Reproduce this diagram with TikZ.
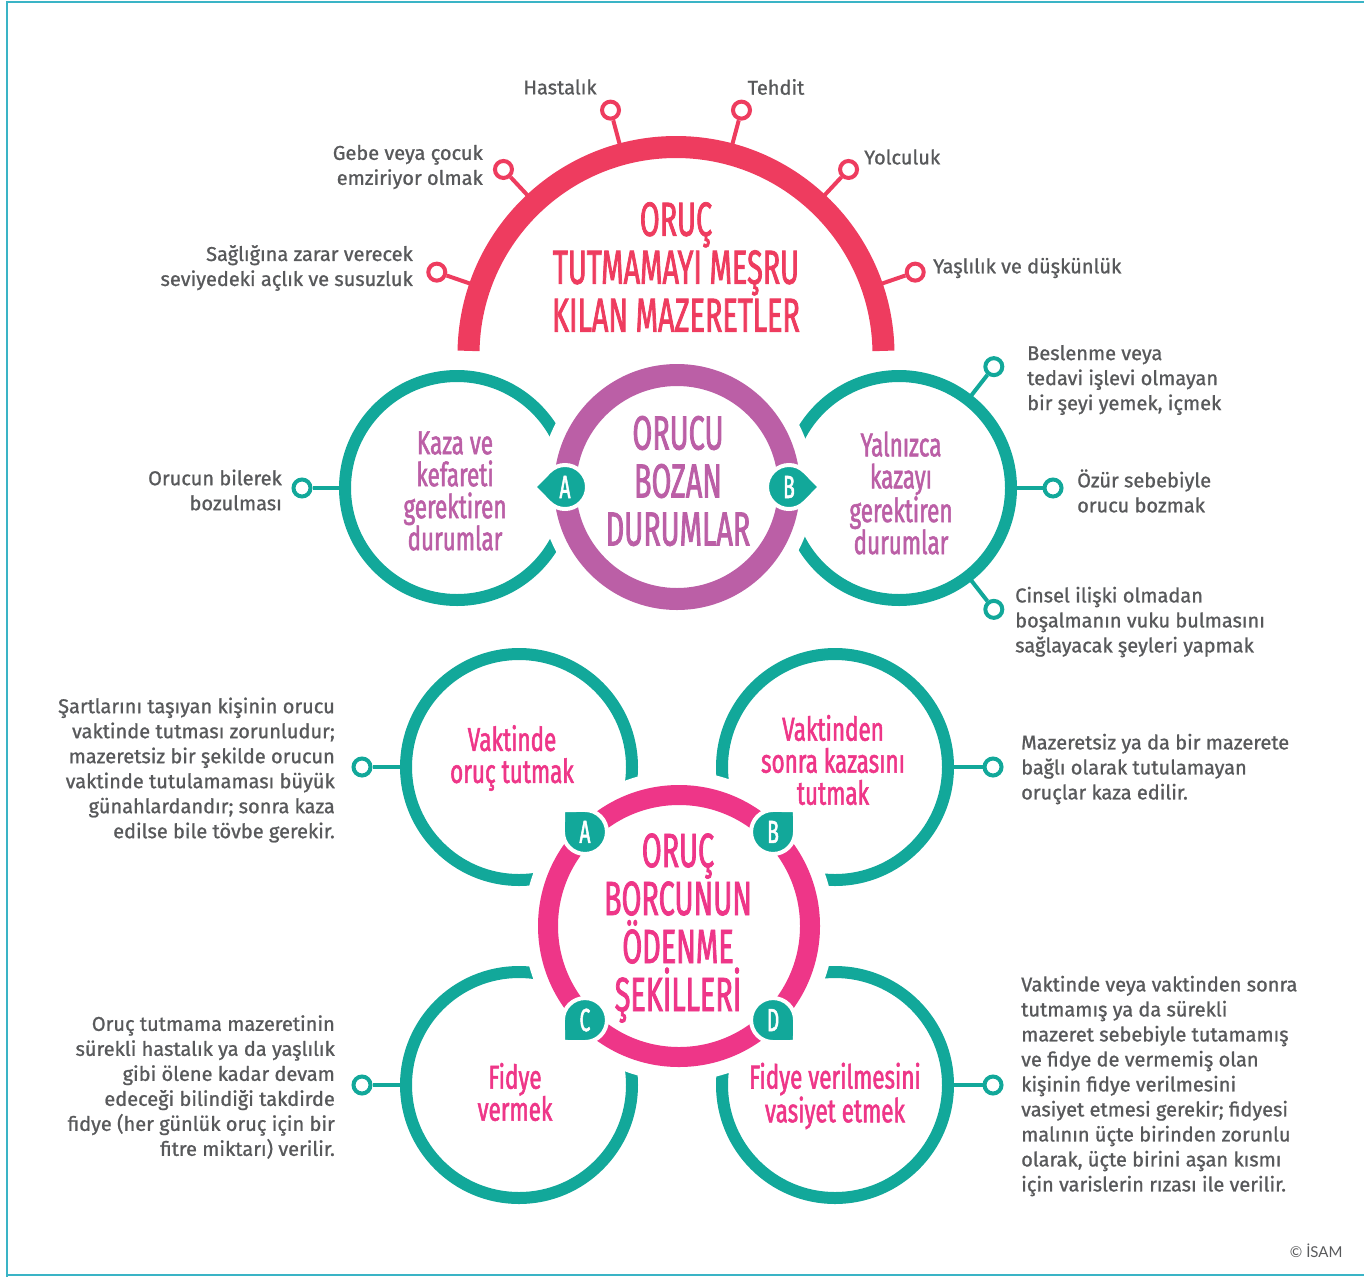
\documentclass[tikz,border=0pt]{standalone}
\usepackage{fontspec}
\setmainfont{Fira Sans}
\newfontfamily\lblfont{Fira Sans}[FakeBold=1]
\newfontfamily\titlefont{Fira Sans}[FakeStretch=0.6, FakeBold=1.6]
\newfontfamily\subfont{Fira Sans}[FakeStretch=0.68, FakeBold=1.6]
\newfontfamily\copyfont{Lato}
\usetikzlibrary{positioning}

\definecolor{redarc}{HTML}{EE3C5F}
\definecolor{purp}{HTML}{BB5FA6}
\definecolor{tealc}{HTML}{12A89A}
\definecolor{pinkc}{HTML}{EE3688}
\definecolor{txtgray}{HTML}{58595B}
\definecolor{framec}{HTML}{3AB4C6}

\tikzset{
  lbl/.style={font=\lblfont\fontsize{20}{25}\selectfont, text=txtgray, inner sep=0pt},
  dot/.style={circle, draw=#1, line width=4pt, fill=white, minimum size=17pt, inner sep=0pt},
  spoke/.style={draw=#1, line width=4pt},
  bigtitle/.style={font=\titlefont\fontsize{48}{48}\selectfont, align=center, inner sep=0pt},
  subtitle/.style={font=\subfont\fontsize{33}{32}\selectfont, align=center, inner sep=0pt},
  badge/.style={font=\titlefont\fontsize{32}{32}\selectfont, text=white, inner sep=0pt},
}

% teal drop with a letter: centre, corner angle, letter
\newcommand{\drop}[3]{%
  \draw[white, line width=4pt, fill=tealc]
    ([shift={(#2:31)}]#1) -- ([shift={(#2+45:22)}]#1)
    arc[start angle=#2+45, end angle=#2+315, radius=22] -- cycle;
  \node[badge] at (#1) {#3};
}

\begin{document}
\begin{tikzpicture}[x=1pt, y=-1pt]
  \useasboundingbox (0,0) rectangle (1364,1277);
  \draw[framec, line width=2pt] (7,1277) -- (7,2) -- (1364,2);
  \draw[framec, line width=2pt] (7,1275) -- (1364,1275);

  % top half ring
  \coordinate (rc) at (676,354.5);
  \draw[redarc, line width=22pt] (rc) ++(-179:207.5) arc[start angle=-179, end angle=-1, radius=207.5];
  \node[dot=redarc] (d1) at ([shift={(-161:253)}]rc) {};
  \node[dot=redarc] (d2) at ([shift={(-133:253)}]rc) {};
  \node[dot=redarc] (d3) at ([shift={(-105:253)}]rc) {};
  \node[dot=redarc] (d4) at ([shift={(-75:253)}]rc) {};
  \node[dot=redarc] (d5) at ([shift={(-47:253)}]rc) {};
  \node[dot=redarc] (d6) at ([shift={(-19:253)}]rc) {};
  \coordinate (r1) at ([shift={(-161:212)}]rc);
  \coordinate (r2) at ([shift={(-133:212)}]rc);
  \coordinate (r3) at ([shift={(-105:212)}]rc);
  \coordinate (r4) at ([shift={(-75:212)}]rc);
  \coordinate (r5) at ([shift={(-47:212)}]rc);
  \coordinate (r6) at ([shift={(-19:212)}]rc);
  \draw[spoke=redarc] (r1) -- (d1);
  \draw[spoke=redarc] (r2) -- (d2);
  \draw[spoke=redarc] (r3) -- (d3);
  \draw[spoke=redarc] (r4) -- (d4);
  \draw[spoke=redarc] (r5) -- (d5);
  \draw[spoke=redarc] (r6) -- (d6);

  \node[bigtitle, text=redarc] (mazeret) at (676,267) {ORUÇ\\TUTMAMAYI MEŞRU\\KILAN MAZERETLER};
  \node[lbl] (hastalik) at (560,87) {Hastalık};
  \node[lbl] (tehdit) at (776,87) {Tehdit};
  \node[lbl, align=right, anchor=east] (gebe) at (483,167) {Gebe veya çocuk\\emziriyor olmak};
  \node[lbl, anchor=west] (yolculuk) at (864,157) {Yolculuk};
  \node[lbl, align=right, anchor=east] (saglik) at (413,268) {Sağlığına zarar verecek\\seviyedeki açlık ve susuzluk};
  \node[lbl, anchor=west] (yaslilik) at (933,268) {Yaşlılık ve düşkünlük};

  % middle: orucu bozan durumlar
  \coordinate (mc) at (677,487);
  \coordinate (lc) at (457,488);
  \coordinate (rcc) at (899,488);
  \draw[tealc, line width=12pt] (lc) circle[radius=112];
  \draw[tealc, line width=12pt] (rcc) circle[radius=112];
  \node[dot=tealc] (m1) at ([shift={(180:155)}]lc) {};
  \node[dot=tealc] (m2) at ([shift={(-52:154)}]rcc) {};
  \node[dot=tealc] (m3) at ([shift={(0:154)}]rcc) {};
  \node[dot=tealc] (m4) at ([shift={(52:154)}]rcc) {};
  \coordinate (q1) at ([shift={(180:112)}]lc);
  \coordinate (q2) at ([shift={(-52:112)}]rcc);
  \coordinate (q3) at ([shift={(0:112)}]rcc);
  \coordinate (q4) at ([shift={(52:112)}]rcc);
  \draw[spoke=tealc] (q1) -- (m1);
  \draw[spoke=tealc] (q2) -- (m2);
  \draw[spoke=tealc] (q3) -- (m3);
  \draw[spoke=tealc] (q4) -- (m4);
  \fill[white] (mc) circle[radius=137];
  \draw[purp, line width=22pt] (mc) circle[radius=112];

  \coordinate (ba) at ([shift={(180:112)}]mc);
  \coordinate (bb) at ([shift={(0:112)}]mc);
  \drop{ba}{180}{A}
  \drop{bb}{0}{B}

  \node[bigtitle, text=purp] (bozan) at (678,481) {ORUCU\\BOZAN\\DURUMLAR};
  \node[subtitle, text=purp] (kaza) at (455,491) {Kaza ve\\kefareti\\gerektiren\\durumlar};
  \node[subtitle, text=purp] (yalniz) at (901,493) {Yalnızca\\kazayı\\gerektiren\\durumlar};
  \node[lbl, align=right, anchor=east] (bilerek) at (282,490) {Orucun bilerek\\bozulması};
  \node[lbl, align=left, anchor=west] (beslenme) at (1027,380) {Beslenme veya\\tedavi işlevi olmayan\\bir şeyi yemek, içmek};
  \node[lbl, align=left, anchor=west] (ozur) at (1077,491) {Özür sebebiyle\\orucu bozmak};
  \node[lbl, align=left, anchor=west] (cinsel) at (1015,622) {Cinsel ilişki olmadan\\boşalmanın vuku bulmasını\\sağlayacak şeyleri yapmak};

  % bottom: orucun borcunun odenme sekilleri
  \coordinate (pc) at (679,926);
  \coordinate (tl) at (519,767);
  \coordinate (tr) at (835,767);
  \coordinate (bl) at (519,1085);
  \coordinate (br) at (835,1085);
  \draw[tealc, line width=12pt] (tl) circle[radius=113];
  \draw[tealc, line width=12pt] (tr) circle[radius=113];
  \draw[tealc, line width=12pt] (bl) circle[radius=113];
  \draw[tealc, line width=12pt] (br) circle[radius=113];
  \fill[white] (pc) circle[radius=155];
  \draw[pinkc, line width=20pt] (pc) circle[radius=131];

  \node[dot=tealc] (e1) at ([shift={(180:157)}]tl) {};
  \node[dot=tealc] (e2) at ([shift={(0:158)}]tr) {};
  \node[dot=tealc] (e3) at ([shift={(180:157)}]bl) {};
  \node[dot=tealc] (e4) at ([shift={(0:158)}]br) {};
  \coordinate (p1) at ([shift={(180:113)}]tl);
  \coordinate (p2) at ([shift={(0:113)}]tr);
  \coordinate (p3) at ([shift={(180:113)}]bl);
  \coordinate (p4) at ([shift={(0:113)}]br);
  \draw[spoke=tealc] (p1) -- (e1);
  \draw[spoke=tealc] (p2) -- (e2);
  \draw[spoke=tealc] (p3) -- (e3);
  \draw[spoke=tealc] (p4) -- (e4);

  \coordinate (ka) at ([shift={(-135:133)}]pc);
  \coordinate (kb) at ([shift={(-45:133)}]pc);
  \coordinate (kc) at ([shift={(135:133)}]pc);
  \coordinate (kd) at ([shift={(45:133)}]pc);
  \drop{ka}{-135}{A}
  \drop{kb}{-45}{B}
  \drop{kc}{135}{C}
  \drop{kd}{45}{D}

  \node[bigtitle, text=pinkc] (borc) at (678,928) {ORUÇ\\BORCUNUN\\ÖDENME\\ŞEKİLLERİ};
  \node[subtitle, text=pinkc] (vaktinde) at (512,758) {Vaktinde\\oruç tutmak};
  \node[subtitle, text=pinkc] (kazasi) at (833,760) {Vaktinden\\sonra kazasını\\tutmak};
  \node[subtitle, text=pinkc] (fidye) at (515,1092) {Fidye\\vermek};
  \node[subtitle, text=pinkc] (vasiyet) at (835,1096) {Fidye verilmesini\\vasiyet etmek};

  \node[lbl, align=right, anchor=east] (sartlar) at (335,770) {Şartlarını taşıyan kişinin orucu\\vaktinde tutması zorunludur;\\mazeretsiz bir şekilde orucun\\vaktinde tutulamaması büyük\\günahlardandır; sonra kaza\\edilse bile tövbe gerekir.};
  \node[lbl, align=left, anchor=west] (kazaedilir) at (1021,769) {Mazeretsiz ya da bir mazerete\\bağlı olarak tutulamayan\\oruçlar kaza edilir.};
  \node[lbl, align=right, anchor=east] (olene) at (335,1087) {Oruç tutmama mazeretinin\\sürekli hastalık ya da yaşlılık\\gibi ölene kadar devam\\edeceği bilindiği takdirde\\fidye (her günlük oruç için bir\\fitre miktarı) verilir.};
  \node[lbl, align=left, anchor=west] (varis) at (1021,1086) {Vaktinde veya vaktinden sonra\\tutmamış ya da sürekli\\mazeret sebebiyle tutamamış\\ve fidye de vermemiş olan\\kişinin fidye verilmesini\\vasiyet etmesi gerekir; fidyesi\\malının üçte birinden zorunlu\\olarak, üçte birini aşan kısmı\\için varislerin rızası ile verilir.};

  \node[anchor=east, font=\copyfont\fontsize{15}{15}\selectfont, text=txtgray] (isam) at (1346,1251) {© İSAM};
\end{tikzpicture}
\end{document}
